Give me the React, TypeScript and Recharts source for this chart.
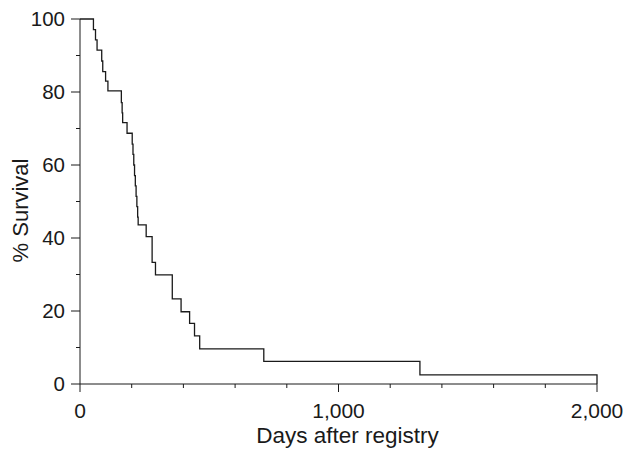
import { LineChart, Line, XAxis, YAxis } from "recharts"

// Kaplan-Meier steps
const days = [0, 52, 60, 66, 84, 88, 99, 108, 160, 163, 165, 182, 202, 205, 208, 211, 214, 217, 220, 223, 225, 256, 279, 292, 357, 391, 424, 443, 463, 711, 1315, 2000]
const survival = [100, 97.1, 94.3, 91.5, 88.5, 85.6, 83.0, 80.3, 77.1, 74.3, 71.6, 68.7, 65.7, 62.9, 60.0, 57.1, 54.3, 51.4, 48.6, 45.7, 43.6, 40.4, 33.3, 29.9, 23.3, 19.8, 16.6, 13.2, 9.6, 6.2, 2.5, 0]

const xTicks = [0, 200, 400, 600, 800, 1000, 1200, 1400, 1600, 1800, 2000]
const yTicks = [0, 10, 20, 30, 40, 50, 60, 70, 80, 90, 100]

const data = days.map((d, i) => ({ day: d, s: survival[i] }))

const FONT = "'Liberation Sans', Arial, Helvetica, sans-serif"
const INK = "#1a1a1a"

const YTick = (props: any) => {
  const { x, y, payload } = props
  const v = payload.value
  const major = v % 20 === 0
  return (
    <g>
      <line x1={x - (major ? 9 : 4)} x2={x} y1={y} y2={y} stroke={INK} strokeWidth={1} />
      {major && (
        <text x={x - 15} y={y} dy={7} textAnchor="end" fontSize={20.5} fontFamily={FONT} fill={INK}>
          {v}
        </text>
      )}
    </g>
  )
}

const XTick = (props: any) => {
  const { x, y, payload } = props
  const v = payload.value
  const major = v % 1000 === 0
  return (
    <g>
      <line x1={x} x2={x} y1={y} y2={y + (major ? 8 : 4)} stroke={INK} strokeWidth={1} />
      {major && (
        <text x={x} y={y} dy={34} textAnchor="middle" fontSize={21} fontFamily={FONT} fill={INK}>
          {v.toLocaleString("en-US")}
        </text>
      )}
    </g>
  )
}

export default function App() {
  return (
    <div style={{ position: "absolute", left: 0, top: 0, width: 637, height: 454, background: "#fff" }}>
      <LineChart width={637} height={454} data={data} margin={{ top: 19, right: 40, left: 0, bottom: 0 }}>
        <XAxis
          type="number"
          dataKey="day"
          domain={[0, 2000]}
          ticks={xTicks}
          tick={<XTick />}
          tickSize={0}
          tickMargin={0}
          tickLine={false}
          axisLine={{ stroke: INK, strokeWidth: 1 }}
          height={70}
          interval={0}
          label={{
            content: (p: any) => (
              <text
                x={p.viewBox.x + p.viewBox.width / 2 + 9}
                y={p.viewBox.y + 59}
                textAnchor="middle"
                fontSize={22.5}
                fontFamily={FONT}
                fill={INK}
              >
                Days after registry
              </text>
            ),
          }}
        />
        <YAxis
          type="number"
          domain={[0, 100]}
          ticks={yTicks}
          tick={<YTick />}
          tickSize={0}
          tickMargin={0}
          tickLine={false}
          axisLine={{ stroke: INK, strokeWidth: 1 }}
          width={80}
          interval={0}
          label={{
            content: (p: any) => {
              const cx = 28
              const cy = p.viewBox.y + p.viewBox.height / 2 + 9
              return (
                <text
                  x={cx}
                  y={cy}
                  transform={`rotate(-90, ${cx}, ${cy})`}
                  textAnchor="middle"
                  fontSize={22}
                  fontFamily={FONT}
                  fill={INK}
                >
                  % Survival
                </text>
              )
            },
          }}
        />
        <Line
          type="stepAfter"
          dataKey="s"
          stroke={INK}
          strokeWidth={1.3}
          dot={false}
          isAnimationActive={false}
        />
      </LineChart>
    </div>
  )
}
